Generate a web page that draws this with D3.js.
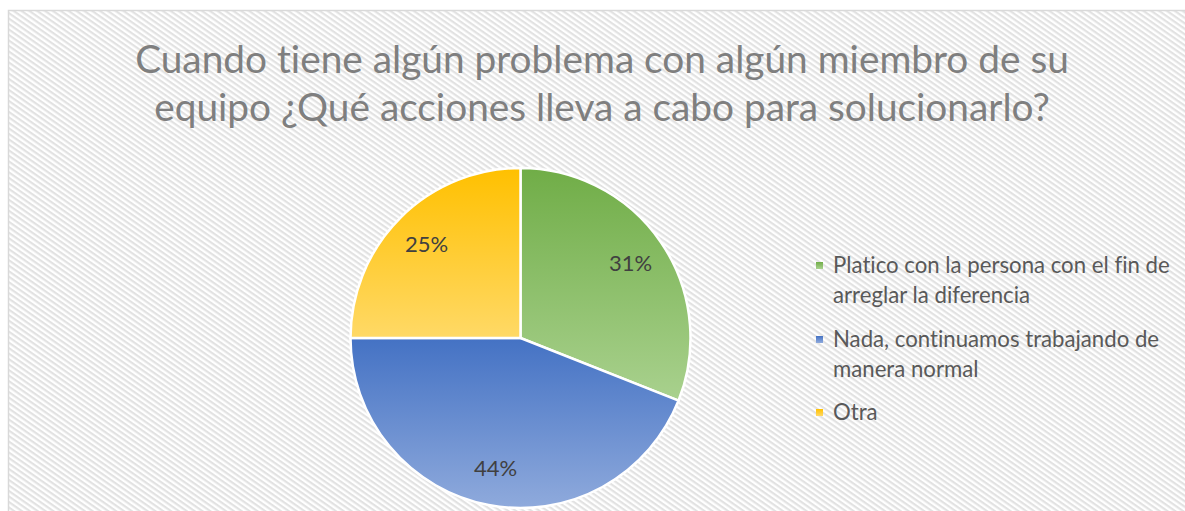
<!DOCTYPE html>
<html>
<head>
<meta charset="utf-8">
<script src="https://cdn.jsdelivr.net/npm/d3@7"></script>
<style>
  body { margin: 0; background: #fff; }
  text { font-family: Lato, "Open Sans", sans-serif; font-variant-ligatures: none; }
</style>
</head>
<body>
<div class="display"></div>
<script>
const titleLines = ['Cuando tiene algún problema con algún miembro de su', 'equipo ¿Qué acciones lleva a cabo para solucionarlo?'];
const categories = ['Platico con la persona con el fin de arreglar la diferencia', 'Nada, continuamos trabajando de manera normal', 'Otra'];
const legendLines = [['Platico con la persona con el fin de', 'arreglar la diferencia'], ['Nada, continuamos trabajando de', 'manera normal'], ['Otra']];
const percents = [31, 44, 25];
const topColors = ['#70ad47', '#4472c4', '#ffc000'];
const bottomColors = ['#a9d18e', '#8faadc', '#ffd966'];

const config = {
  width: 1185,
  height: 511,
  cx: 520.5,
  cy: 338,
  radius: 170,
  labelRadius: 133,
  legendX: 816,
  legendTextX: 833,
  legendY: [273, 347, 420],
  lineGap: 29.5
};

const svg = d3.select('.display')
  .append('svg')
  .attr('width', config.width)
  .attr('height', config.height);

const defs = svg.append('defs');

// hatch background
const pattern = defs.append('pattern')
  .attr('id', 'hatch')
  .attr('patternUnits', 'userSpaceOnUse')
  .attr('width', 4.5)
  .attr('height', 4.5)
  .attr('patternTransform', 'rotate(35)');
pattern.append('rect').attr('width', 4.5).attr('height', 4.5).attr('fill', '#ffffff');
pattern.append('rect').attr('width', 4.5).attr('height', 2.2).attr('fill', '#e2e2e2');

categories.forEach((c, i) => {
  const g = defs.append('linearGradient')
    .attr('id', 'grad' + i)
    .attr('x1', 0).attr('y1', 0).attr('x2', 0).attr('y2', 1);
  g.append('stop').attr('offset', '0%').attr('stop-color', topColors[i]);
  g.append('stop').attr('offset', '100%').attr('stop-color', bottomColors[i]);
});

svg.append('rect')
  .attr('x', 8.5)
  .attr('y', 10.5)
  .attr('width', config.width)
  .attr('height', config.height)
  .attr('fill', 'url(#hatch)')
  .attr('stroke', '#d9d9d9')
  .attr('stroke-width', 1.5);

// title
svg.append('text')
  .attr('x', 602)
  .attr('y', 73)
  .attr('text-anchor', 'middle')
  .attr('fill', '#7f7f7f')
  .style('font-size', '38.8px')
  .selectAll('tspan')
  .data(titleLines)
  .enter()
  .append('tspan')
  .attr('x', 602)
  .attr('dy', (d, i) => i === 0 ? 0 : 48)
  .text(d => d);

// pie
const pie = d3.pie().sort(null).value(d => d);
const arc = d3.arc().innerRadius(0).outerRadius(config.radius);
const labelArc = d3.arc().innerRadius(config.labelRadius).outerRadius(config.labelRadius);

const pieGroup = svg.append('g')
  .attr('transform', `translate(${config.cx}, ${config.cy})`);

const arcs = pie(percents);

pieGroup.selectAll('.slice')
  .data(arcs)
  .enter()
  .append('path')
  .attr('class', 'slice')
  .attr('d', arc)
  .attr('fill', (d, i) => `url(#grad${i})`)
  .attr('stroke', '#ffffff')
  .attr('stroke-width', 2.5);

pieGroup.selectAll('.label')
  .data(arcs)
  .enter()
  .append('text')
  .attr('class', 'label')
  .attr('x', d => labelArc.centroid(d)[0])
  .attr('y', d => labelArc.centroid(d)[1])
  .attr('dy', '0.35em')
  .attr('text-anchor', 'middle')
  .attr('fill', '#404040')
  .style('font-size', '22px')
  .text(d => d.data + '%');

// legend
const legend = svg.append('g');

legend.selectAll('.marker')
  .data(categories)
  .enter()
  .append('rect')
  .attr('class', 'marker')
  .attr('x', config.legendX)
  .attr('y', (d, i) => config.legendY[i] - 11)
  .attr('width', 7)
  .attr('height', 7)
  .attr('fill', (d, i) => `url(#grad${i})`);

legend.selectAll('.legend-text')
  .data(legendLines)
  .enter()
  .append('text')
  .attr('class', 'legend-text')
  .attr('x', config.legendTextX)
  .attr('y', (d, i) => config.legendY[i])
  .attr('fill', '#595959')
  .style('font-size', '22.2px')
  .selectAll('tspan')
  .data(d => d)
  .enter()
  .append('tspan')
  .attr('x', config.legendTextX)
  .attr('dy', (d, i) => i === 0 ? 0 : config.lineGap)
  .text(d => d);
</script>
</body>
</html>
